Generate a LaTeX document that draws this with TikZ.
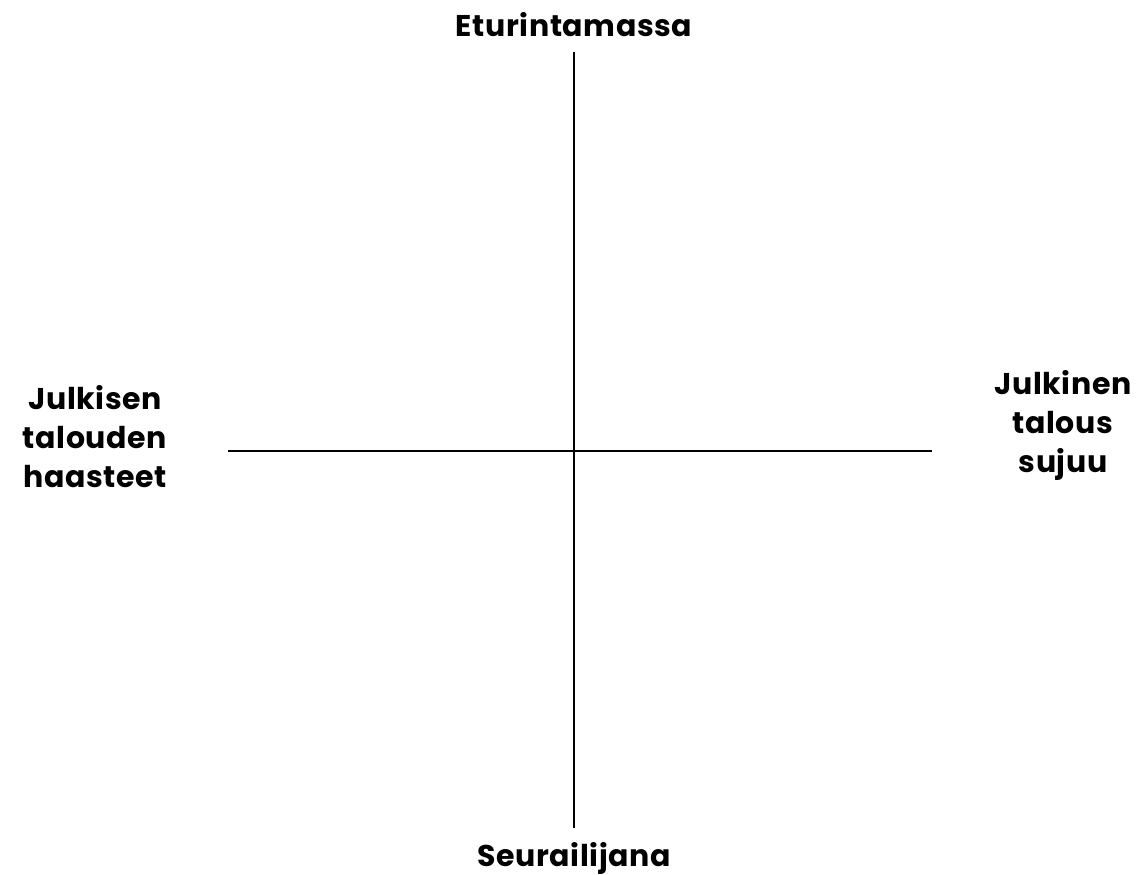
\documentclass[tikz,border=0pt]{standalone}
\usepackage{fontspec}
\setmainfont{Poppins}[BoldFont={* Bold},LetterSpace=2]
\begin{document}
\begin{tikzpicture}[x=1pt,y=1pt,
  lbl/.style={font=\bfseries\fontsize{30}{39}\selectfont, align=center, text=black},
  axis/.style={line width=2.8pt, black}]
\useasboundingbox (0,0) rectangle (1143,-875);
\coordinate (top) at (574,-52);
\coordinate (bot) at (574,-828);
\coordinate (lft) at (228,-451);
\coordinate (rgt) at (932,-451);
\draw[axis] (top) -- (bot);
\draw[axis] (lft) -- (rgt);
\node[lbl] (n) at (574,-25) {Eturintamassa};
\node[lbl] (s) at (574,-858) {Seurailijana};
\node[lbl] (w) at (95,-437) {Julkisen\\talouden\\haasteet};
\node[lbl] (e) at (1063,-425) {Julkinen\\talous\\sujuu};
\end{tikzpicture}
\end{document}
